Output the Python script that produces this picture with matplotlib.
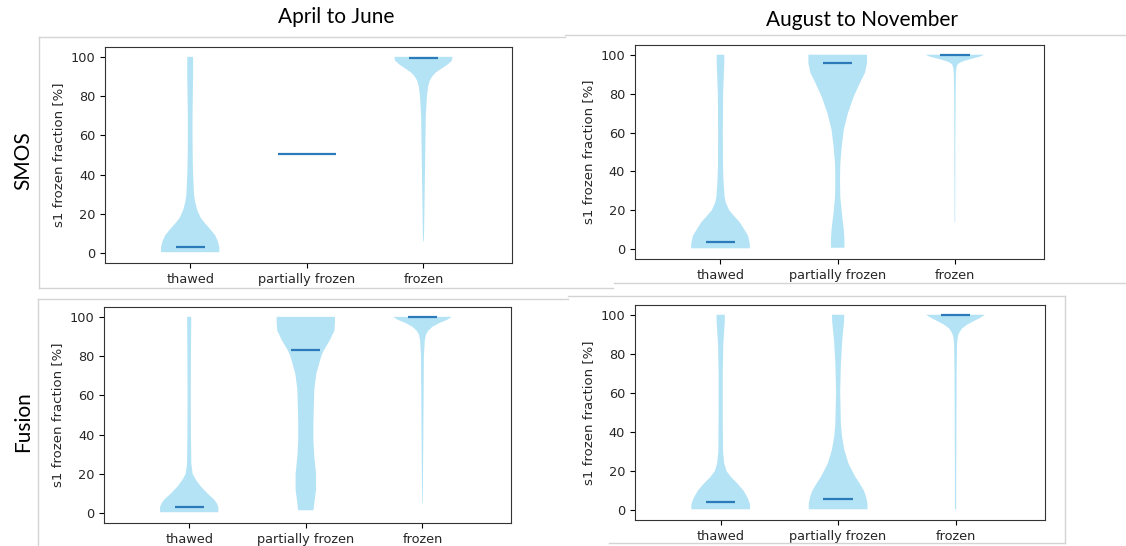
import matplotlib.pyplot as plt
from matplotlib.lines import Line2D

categories = ['thawed', 'partially frozen', 'frozen']
col_titles = ['April to June', 'August to November']
row_titles = ['SMOS', 'Fusion']
ylabel = 's1 frozen fraction [%]'

# violin outlines: y value [%] and relative half width
smos_spring_thawed_y = [0.5, 3, 6, 9, 12, 15, 18, 22, 26, 30, 40, 50, 60, 70, 80, 90, 100]
smos_spring_thawed_w = [1.0, 1.0, 0.95, 0.86, 0.7, 0.52, 0.36, 0.24, 0.17, 0.13, 0.1, 0.085, 0.08, 0.08, 0.09, 0.1, 0.1]
smos_spring_partial_y = [50.5, 50.5]
smos_spring_partial_w = [1.0, 1.0]
smos_spring_frozen_y = [6, 10, 20, 30, 40, 50, 60, 70, 80, 85, 88, 90, 92, 94, 96, 98, 100]
smos_spring_frozen_w = [0.01, 0.02, 0.03, 0.04, 0.05, 0.06, 0.07, 0.08, 0.12, 0.16, 0.22, 0.3, 0.42, 0.62, 0.82, 0.97, 1.0]

smos_autumn_thawed_y = [0.5, 3, 7, 10, 14, 17, 20, 24, 27, 36, 44, 60, 80, 88, 96, 100]
smos_autumn_thawed_w = [1.0, 1.0, 0.94, 0.82, 0.65, 0.47, 0.3, 0.18, 0.14, 0.1, 0.085, 0.08, 0.09, 0.11, 0.13, 0.13]
smos_autumn_partial_y = [0.8, 5, 10, 19, 27, 36, 44, 53, 61.5, 70, 78.6, 85.5, 90.6, 95.7, 100]
smos_autumn_partial_w = [0.23, 0.23, 0.21, 0.14, 0.09, 0.08, 0.09, 0.14, 0.21, 0.35, 0.55, 0.76, 0.93, 1.0, 1.0]
smos_autumn_frozen_y = [14, 40, 60, 80, 90, 93, 95, 96, 97, 98, 99, 100]
smos_autumn_frozen_w = [0.01, 0.015, 0.018, 0.025, 0.035, 0.05, 0.09, 0.18, 0.35, 0.6, 0.85, 1.0]

fusion_spring_thawed_y = [0.5, 3, 5, 7, 10, 13.6, 17, 20, 25, 40, 60, 80, 97, 100]
fusion_spring_thawed_w = [1.0, 1.0, 0.95, 0.85, 0.63, 0.4, 0.23, 0.12, 0.075, 0.06, 0.055, 0.06, 0.07, 0.07]
fusion_spring_partial_y = [1.5, 5, 12, 20, 29, 37, 46, 63, 71, 80, 83, 88, 93, 97, 100]
fusion_spring_partial_w = [0.26, 0.29, 0.35, 0.35, 0.29, 0.26, 0.26, 0.29, 0.36, 0.53, 0.62, 0.82, 0.98, 1.0, 1.0]
fusion_spring_frozen_y = [5, 20, 40, 60, 80, 88, 91, 93, 95, 97, 98.5, 100]
fusion_spring_frozen_w = [0.01, 0.02, 0.03, 0.04, 0.05, 0.08, 0.12, 0.2, 0.35, 0.6, 0.85, 1.0]

fusion_autumn_thawed_y = [0.5, 3, 6, 10, 14, 17, 20, 24, 30, 50, 70, 85, 92, 97, 100]
fusion_autumn_thawed_w = [1.0, 1.0, 0.93, 0.78, 0.55, 0.35, 0.2, 0.12, 0.08, 0.07, 0.07, 0.09, 0.12, 0.14, 0.14]
fusion_autumn_partial_y = [0.5, 3.4, 7, 10, 14, 17, 21, 24, 31, 38, 44, 61, 75, 87, 96, 100]
fusion_autumn_partial_w = [1.0, 1.0, 0.95, 0.88, 0.72, 0.59, 0.45, 0.35, 0.21, 0.13, 0.095, 0.07, 0.095, 0.14, 0.2, 0.21]
fusion_autumn_frozen_y = [0.5, 10, 30, 50, 70, 85, 89, 91, 93, 95, 97, 98.5, 100]
fusion_autumn_frozen_w = [0.02, 0.02, 0.025, 0.03, 0.035, 0.05, 0.08, 0.13, 0.22, 0.4, 0.65, 0.85, 1.0]

medians = {
    'smos_spring': [3, 50.5, 99.5],
    'smos_autumn': [3.5, 95.5, 100],
    'fusion_spring': [3, 83, 100],
    'fusion_autumn': [4, 5.5, 100],
}

panels = {
    'smos_spring': [(smos_spring_thawed_y, smos_spring_thawed_w),
                    (smos_spring_partial_y, smos_spring_partial_w),
                    (smos_spring_frozen_y, smos_spring_frozen_w)],
    'smos_autumn': [(smos_autumn_thawed_y, smos_autumn_thawed_w),
                    (smos_autumn_partial_y, smos_autumn_partial_w),
                    (smos_autumn_frozen_y, smos_autumn_frozen_w)],
    'fusion_spring': [(fusion_spring_thawed_y, fusion_spring_thawed_w),
                      (fusion_spring_partial_y, fusion_spring_partial_w),
                      (fusion_spring_frozen_y, fusion_spring_frozen_w)],
    'fusion_autumn': [(fusion_autumn_thawed_y, fusion_autumn_thawed_w),
                      (fusion_autumn_partial_y, fusion_autumn_partial_w),
                      (fusion_autumn_frozen_y, fusion_autumn_frozen_w)],
}

# the single-value category in the first panel got a wider median bar
panel_widths = {
    'smos_spring': [0.5, 1.0, 0.5],
    'smos_autumn': [0.5, 0.5, 0.5],
    'fusion_spring': [0.5, 0.5, 0.5],
    'fusion_autumn': [0.5, 0.5, 0.5],
}

axes_rects = {
    'smos_spring': [0.0933, 0.5183, 0.3615, 0.3956],
    'smos_autumn': [0.5639, 0.5256, 0.3632, 0.3920],
    'fusion_spring': [0.0924, 0.0421, 0.3615, 0.3956],
    'fusion_autumn': [0.5639, 0.0476, 0.3640, 0.3938],
}

body_color = '#b4e3f5'
median_color = '#2b7bba'

fig = plt.figure(figsize=(11.26, 5.46), dpi=100)

# faint frames of the pasted screenshots
frame_color = '#d4d4d4'
frame_lines = [
    ([39, 565], [37, 37]), ([39, 39], [37, 288]), ([39, 613], [288, 288]),
    ([565, 1126], [35, 35]), ([614, 1126], [283, 283]),
    ([38, 568], [299, 299]), ([38, 38], [299, 546]),
    ([568, 1065], [296, 296]), ([1065, 1065], [296, 543]), ([609, 1065], [543, 543]),
]
for xs, ys in frame_lines:
    fig.add_artist(Line2D([x / 1126 for x in xs], [1 - y / 546 for y in ys],
                          color=frame_color, lw=1.0))

for key, rect in axes_rects.items():
    ax = fig.add_axes(rect)
    stats = []
    for (ys, ws), med in zip(panels[key], medians[key]):
        stats.append({'coords': ys, 'vals': ws, 'mean': med, 'median': med,
                      'min': min(ys), 'max': max(ys)})
    parts = ax.violin(stats, positions=[1, 2, 3], widths=panel_widths[key],
                      showmeans=False, showextrema=False, showmedians=True)
    for body in parts['bodies']:
        body.set_facecolor(body_color)
        body.set_edgecolor('none')
        body.set_linewidth(0)
        body.set_alpha(1.0)
    parts['cmedians'].set_color(median_color)
    parts['cmedians'].set_linewidth(1.6)

    ax.set_xlim(0.27, 3.76)
    ax.set_ylim(-5, 105)
    ax.set_xticks([1, 2, 3])
    ax.set_xticklabels(categories, fontsize=9.3, color='#262626')
    ax.set_yticks([0, 20, 40, 60, 80, 100])
    ax.tick_params(axis='y', labelsize=9.3, labelcolor='#262626')
    ax.set_ylabel(ylabel, fontsize=9.5, color='#262626')
    for sp in ax.spines.values():
        sp.set_color('#333333')

fig.text(336 / 1126, 1 - 17 / 546, col_titles[0], fontsize=15, family='Lato',
         ha='center', va='center')
fig.text(862 / 1126, 1 - 20 / 546, col_titles[1], fontsize=15, family='Lato',
         ha='center', va='center')
fig.text(23 / 1126, 1 - 161 / 546, row_titles[0], fontsize=15, family='Lato',
         rotation=90, ha='center', va='center')
fig.text(23 / 1126, 1 - 422 / 546, row_titles[1], fontsize=15, family='Lato',
         rotation=90, ha='center', va='center')

fig.savefig('out.png', dpi=100)
